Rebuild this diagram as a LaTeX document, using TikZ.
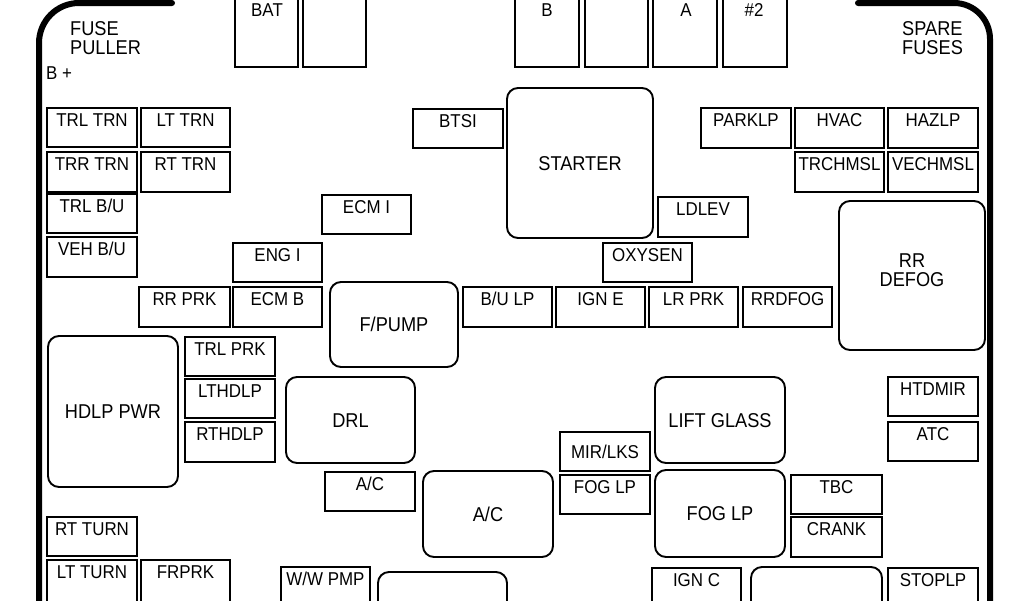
\documentclass[tikz,border=0pt]{standalone}
\usepackage{fontspec}
\setmainfont{Liberation Sans}[FakeStretch=0.91]
\usetikzlibrary{fit}
\newcommand\smf{\fontsize{18.6}{19}\selectfont}
\newcommand\bgf{\fontsize{20}{19.5}\selectfont}
\tikzset{
  fusebox/.style={draw, line width=1.9pt, inner sep=0pt},
  relbox/.style={draw, line width=1.9pt, inner sep=0pt, rounded corners=11pt},
  lbl/.style={font=\smf, inner sep=0pt, text height=13pt, text depth=0pt, anchor=center},
  biglbl/.style={font=\bgf, inner sep=0pt, text height=14pt, text depth=0pt, anchor=center},
  frame/.style={draw, line width=6pt, line cap=round},
  note/.style={font=\bgf, inner sep=0pt, align=left, anchor=north west}
}
% small fuse: name, x1, y1, x2, y2, text
\newcommand\fz[6]{\node[fusebox, fit={(#2,#3) (#4,#5)}] (#1) {};
  \node[lbl] (#1-t) at ([yshift=-12.5pt]#1.north) {#6};}
% relay: name, x1, y1, x2, y2, text
\newcommand\rz[6]{\node[relbox, fit={(#2,#3) (#4,#5)}] (#1) {};
  \node[biglbl] (#1-t) at (#1.center) {#6};}
\begin{document}
\begin{tikzpicture}[x=1pt,y=-1pt]
\useasboundingbox[fill=white] (0,0) rectangle (1024,600);
\clip (0,0) rectangle (1024,600);
% outer frame
\draw[frame, rounded corners=40pt] (39,640) -- (39,3) -- (172,3);
\draw[frame, rounded corners=36pt] (858,3) -- (990,3) -- (990,640);
% texts
\node[note] (fuseppuller) at (70,21) {FUSE\\PULLER};
\node[note] (spare) at (902,21) {SPARE\\FUSES};
\node[lbl, anchor=west] (bplus) at (46,73) {B +};
% top row
\fz{bat}{235}{-30}{298}{67}{}
\node[lbl] (bat-l) at (267,10) {BAT};
\fz{top2}{303}{-30}{366}{67}{}
\fz{topb}{515}{-30}{579}{67}{}
\node[lbl] (topb-l) at (547,10) {B};
\fz{top4}{585}{-30}{648}{67}{}
\fz{topa}{653}{-30}{717}{67}{}
\node[lbl] (topa-l) at (686,10) {A};
\fz{top6}{723}{-30}{787}{67}{}
\node[lbl] (top6-l) at (754,10) {\#2};
% left column
\fz{trltrn}{47}{108}{137}{147}{TRL TRN}
\fz{lttrn}{141}{108}{230}{147}{LT TRN}
\fz{trrtrn}{47}{152}{137}{192}{TRR TRN}
\fz{rttrn}{141}{152}{230}{192}{RT TRN}
\fz{trlbu}{47}{194}{137}{233}{TRL B/U}
\fz{vehbu}{47}{237}{137}{277}{VEH B/U}
\fz{engi}{233}{243}{322}{282}{ENG I}
\fz{ecmi}{322}{195}{411}{234}{ECM I}
\fz{rrprk}{139}{287}{230}{327}{RR PRK}
\fz{ecmb}{233}{287}{322}{327}{ECM B}
\rz{hdlp}{48}{336}{178}{487}{HDLP PWR}
\fz{trlprk}{185}{337}{275}{376}{TRL PRK}
\fz{lthdlp}{185}{379}{275}{418}{LTHDLP}
\fz{rthdlp}{185}{422}{275}{462}{RTHDLP}
\fz{rtturn}{47}{517}{137}{556}{RT TURN}
\fz{ltturn}{47}{560}{137}{630}{LT TURN}
\fz{frprk}{141}{560}{230}{630}{FRPRK}
\fz{wwpmp}{281}{567}{370}{630}{W/W PMP}
% middle
\fz{btsi}{413}{109}{503}{148}{BTSI}
\rz{starter}{507}{88}{653}{238}{STARTER}
\rz{fpump}{330}{282}{458}{367}{F/PUMP}
\fz{bulp}{463}{287}{552}{327}{B/U LP}
\fz{igne}{556}{287}{645}{327}{IGN E}
\fz{lrprk}{649}{287}{738}{327}{LR PRK}
\fz{rrdfog}{743}{287}{832}{327}{RRDFOG}
\fz{oxysen}{603}{243}{692}{282}{OXYSEN}
\fz{ldlev}{658}{197}{748}{237}{LDLEV}
\node[relbox, fit={(839,201) (985,350)}] (rrdefog) {};
\node[font=\bgf, inner sep=0pt, align=center] (rrdefog-t) at (912,270) {RR\\DEFOG};
% right column
\fz{parklp}{701}{108}{791}{148}{PARKLP}
\fz{hvac}{795}{108}{884}{148}{HVAC}
\fz{hazlp}{888}{108}{978}{148}{HAZLP}
\fz{trchmsl}{795}{152}{884}{192}{TRCHMSL}
\fz{vechmsl}{888}{152}{978}{192}{VECHMSL}
\fz{htdmir}{888}{377}{978}{416}{HTDMIR}
\fz{atc}{888}{422}{978}{461}{ATC}
% lower middle
\rz{drl}{286}{377}{415}{463}{DRL}
\fz{acs}{325}{472}{415}{511}{A/C}
\rz{acb}{423}{471}{553}{557}{A/C}
\node[fusebox, fit={(560,432) (650,471)}] (mirlks) {};
\node[lbl] (mirlks-t) at (mirlks.center) {MIR/LKS};
\fz{foglps}{560}{475}{650}{514}{FOG LP}
\rz{lift}{655}{377}{785}{463}{LIFT GLASS}
\rz{foglpb}{655}{470}{785}{557}{FOG LP}
\fz{tbc}{791}{475}{882}{514}{TBC}
\fz{crank}{791}{517}{882}{557}{CRANK}
\fz{ignc}{652}{568}{741}{630}{IGN C}
\rz{botr}{751}{567}{882}{640}{}
\fz{stoplp}{888}{568}{978}{630}{STOPLP}
\rz{botm}{378}{572}{507}{640}{}
\end{tikzpicture}
\end{document}
